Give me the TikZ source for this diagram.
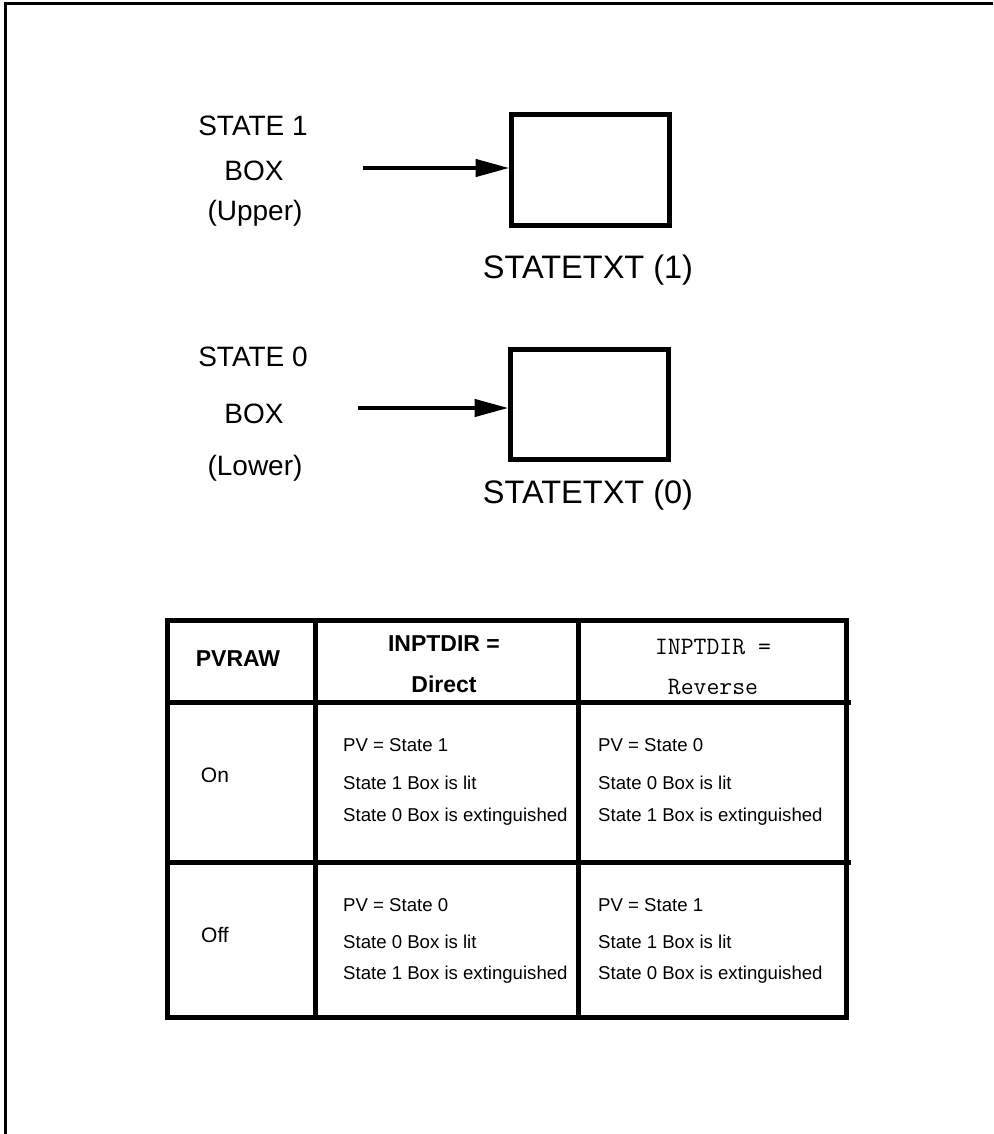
\documentclass[tikz,border=0pt]{standalone}
\usepackage{fontspec}
\setmainfont{Liberation Sans}
\usetikzlibrary{arrows.meta}
\tikzset{
  statebox/.style={draw, line width=5pt, minimum width=158pt, minimum height=110pt, inner sep=0pt},
  feed/.style={line width=4.5pt, -{Triangle[length=34pt,width=17pt]}, shorten >=-1pt},
  lbl/.style={font=\fontsize{28}{32}\selectfont, inner sep=0pt},
  big/.style={font=\fontsize{32.5}{38}\selectfont, inner sep=0pt},
  grid/.style={line width=5pt},
  hdr/.style={font=\fontsize{23}{26}\selectfont\bfseries, inner sep=0pt},
  hdrm/.style={font=\fontsize{25}{28}\selectfont\ttfamily, inner sep=0pt},
  cell/.style={font=\fontsize{18.6}{22}\selectfont, inner sep=0pt, anchor=west},
  rowl/.style={font=\fontsize{21}{24}\selectfont, inner sep=0pt}
}
\begin{document}
\begin{tikzpicture}[x=1pt,y=-1pt]
\useasboundingbox (0,0) rectangle (993,1134);
% frame
\draw[line width=3pt] (5,1134) -- (5,4) -- (993,4);

% upper state box
\node[statebox] (b1) at (590,170) {};
\coordinate (a1) at (363,168);
\draw[feed] (a1) -- (a1 -| b1.west);
\node[lbl] (s1a) at (253,126) {STATE 1};
\node[lbl] (s1b) at (254,171) {BOX};
\node[lbl] (s1c) at (255,213) {(Upper)};
\node[big] (t1) at (588,270) {STATETXT (1)};

% lower state box
\node[statebox] (b0) at (589,404) {};
\coordinate (a0) at (358,408);
\draw[feed] (a0) -- (a0 -| b0.west);
\node[lbl] (s0a) at (253,357) {STATE 0};
\node[lbl] (s0b) at (254,414) {BOX};
\node[lbl] (s0c) at (255,468) {(Lower)};
\node[big] (t0) at (588,495) {STATETXT (0)};

% table
\coordinate (tl) at (167,620);
\coordinate (br) at (846,1017);
\draw[grid] (tl) rectangle (br);
\draw[grid] (315,620) -- (315,1017);
\draw[grid] (578,620) -- (578,1017);
\draw[grid] (167,702) -- (851,702);
\draw[grid] (167,862) -- (851,862);

\node[hdr] (h1) at (238,659) {PVRAW};
\node[hdr] (h2a) at (444,644) {INPTDIR =};
\node[hdr] (h2b) at (444,684) {Direct};
\node[hdrm] (h3a) at (713,647) {INPTDIR =};
\node[hdrm] (h3b) at (713,687) {Reverse};

\node[rowl] (r1) at (215,775) {On};
\node[cell] (c11) at (343,745) {PV = State 1};
\node[cell] (c12) at (343,783) {State 1 Box is lit};
\node[cell] (c13) at (343,817) {State 0 Box is extinguished};
\node[cell] (d11) at (598,745) {PV = State 0};
\node[cell] (d12) at (598,783) {State 0 Box is lit};
\node[cell] (d13) at (598,817) {State 1 Box is extinguished};

\node[rowl] (r2) at (215,935) {Off};
\node[cell] (c21) at (343,905) {PV = State 0};
\node[cell] (c22) at (343,942) {State 0 Box is lit};
\node[cell] (c23) at (343,975) {State 1 Box is extinguished};
\node[cell] (d21) at (598,905) {PV = State 1};
\node[cell] (d22) at (598,942) {State 1 Box is lit};
\node[cell] (d23) at (598,975) {State 0 Box is extinguished};
\end{tikzpicture}
\end{document}
